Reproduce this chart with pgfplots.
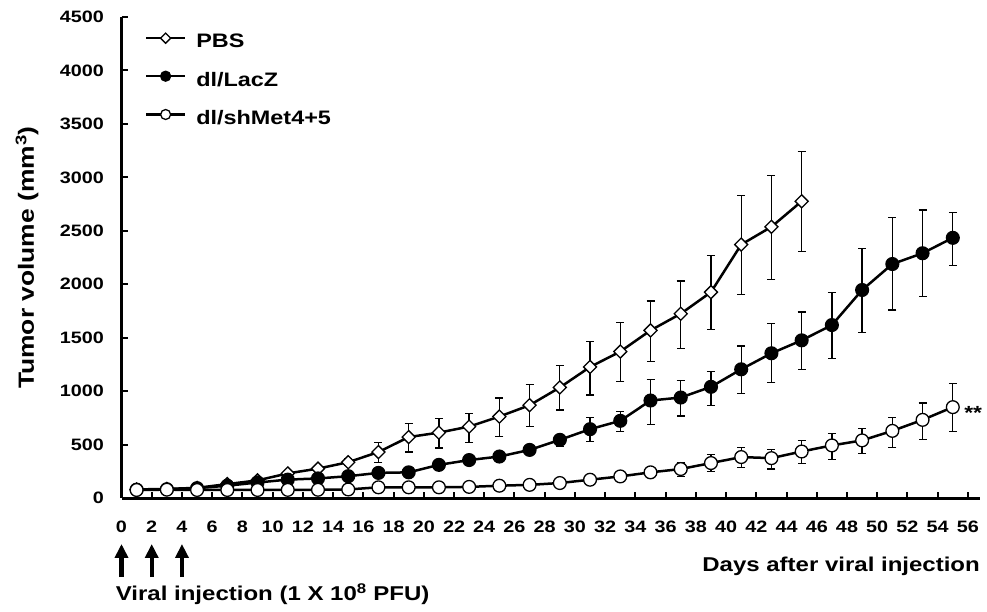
\documentclass[border=0pt]{standalone}
\usepackage{fontspec}
\setmainfont{Liberation Sans}[FakeStretch=1.2]
\usepackage{pgfplots}
\usepackage{pgfplotstable}
\pgfplotsset{compat=1.18}
\usetikzlibrary{arrows.meta}

% day, mean volume, error up, error down
\pgfplotstableread{
day vol ep em
1 80 0 0
3 85 0 0
5 95 5 5
7 130 10 10
9 165 15 15
11 230 20 20
13 275 25 25
15 335 30 30
17 430 90 100
19 570 125 140
21 612 135 145
23 668 122 150
25 762 175 186
27 868 196 202
29 1034 208 212
31 1226 237 261
33 1370 270 280
35 1568 274 292
37 1724 305 324
39 1926 343 348
41 2371 461 466
43 2537 482 492
45 2776 467 467
}\pbs

\pgfplotstableread{
day vol ep em
1 78 0 0
3 82 0 0
5 92 0 0
7 115 5 5
9 145 8 8
11 172 10 10
13 183 12 12
15 204 15 15
17 235 20 20
19 240 20 20
21 310 25 25
23 355 30 30
25 388 30 30
27 450 35 35
29 544 46 64
31 644 106 114
33 722 88 97
35 912 198 222
37 940 158 173
39 1040 142 175
41 1204 219 229
43 1354 279 276
45 1475 265 270
47 1618 303 310
49 1946 387 397
51 2189 438 429
53 2290 405 405
55 2434 239 257
}\lacz

\pgfplotstableread{
day vol ep em
1 75 0 0
3 78 0 0
5 75 0 0
7 75 0 0
9 75 0 0
11 76 0 0
13 77 0 0
15 80 0 0
17 100 5 5
19 100 5 5
21 100 5 5
23 104 5 5
25 115 8 8
27 123 10 10
29 140 12 12
31 171 15 15
33 202 18 18
35 240 30 30
37 271 56 69
39 327 78 78
41 383 88 99
43 373 83 103
45 435 105 115
47 492 113 134
49 539 111 124
51 628 127 158
53 731 159 186
55 850 220 230
}\shmet

\begin{document}
\begin{tikzpicture}
\path[use as bounding box] (-121.5pt,-113pt) rectangle (865.5pt,498pt);
\begin{axis}[
  at={(0pt,0pt)}, anchor=south west,
  scale only axis,
  width=858.5pt, height=481pt,
  xmin=0, xmax=56.8, ymin=0, ymax=4500,
  axis lines=left,
  axis line style={-, line width=3pt},
  xtick={0,2,...,56}, ytick={0,500,...,4500},
  tick align=inside,
  major tick length=6pt,
  tick style={line width=2pt, black},
  scaled y ticks=false,
  /pgf/number format/1000 sep={},
  /pgf/number format/assume math mode=true,
  tick label style={font=\bfseries\fontsize{16.5}{18}\selectfont},
  xticklabel style={anchor=north, inner sep=0pt, yshift=-23pt},
  yticklabel style={anchor=east, inner sep=0pt, xshift=-17.5pt},
  clip=false,
  legend cell align=left,
  legend style={draw=none, fill=none, inner sep=0pt,
    at={(0.027,0.967)}, anchor=north west,
    font=\bfseries\fontsize{19.5}{22}\selectfont,
    row sep=22pt,
    nodes={inner sep=0pt},
    /tikz/every odd column/.append style={column sep=10pt}},
  legend image code/.code={
    \draw[mark repeat=2, mark phase=2, #1, every mark/.append style={scale=0.78}]
      plot coordinates {(0pt,0.35em) (19.5pt,0.35em) (39pt,0.35em)};},
  error bars/error bar style={line width=1.3pt, black},
  error bars/error mark options={rotate=90, mark size=4pt, line width=1.3pt, black},
]
\addplot[black, line width=2.5pt, mark=square*, mark size=4.6pt,
  mark options={rotate=45, fill=white, line width=1.3pt, solid},
  error bars/.cd, y dir=both, y explicit]
  table[x=day, y=vol, y error plus=ep, y error minus=em] {\pbs};
\addlegendentry{PBS}
\addplot[black, line width=2.5pt, mark=*, mark size=6.4pt,
  mark options={fill=black, line width=1.3pt, solid},
  error bars/.cd, y dir=both, y explicit]
  table[x=day, y=vol, y error plus=ep, y error minus=em] {\lacz};
\addlegendentry{dl/LacZ}
\addplot[black, line width=2.5pt, mark=*, mark size=6.4pt,
  mark options={fill=white, line width=1.3pt, solid},
  error bars/.cd, y dir=both, y explicit]
  table[x=day, y=vol, y error plus=ep, y error minus=em] {\shmet};
\addlegendentry{dl/shMet4+5}

\node[anchor=west, inner sep=0pt, font=\bfseries\fontsize{19}{20}\selectfont]
  at (axis cs:55.75,800) {**};

\pgfplotsinvokeforeach{0,2,4}{
  \draw[line width=4.2pt, -{Triangle[width=13pt,length=14pt]}]
    (axis cs:#1,-740) -- (axis cs:#1,-430);
}
\end{axis}
\node[rotate=90, font=\bfseries\fontsize{22}{24}\selectfont] at (-94.5pt,240.5pt)
  {Tumor volume (mm\textsuperscript{3})};
\node[anchor=base east, inner sep=0pt, font=\bfseries\fontsize{20}{24}\selectfont]
  at (858.5pt,-73.7pt) {Days after viral injection};
\node[anchor=base west, inner sep=0pt, font=\bfseries\fontsize{20}{24}\selectfont]
  at (-5.8pt,-102.7pt) {Viral injection (1 X 10\textsuperscript{8} PFU)};
\end{tikzpicture}
\end{document}
